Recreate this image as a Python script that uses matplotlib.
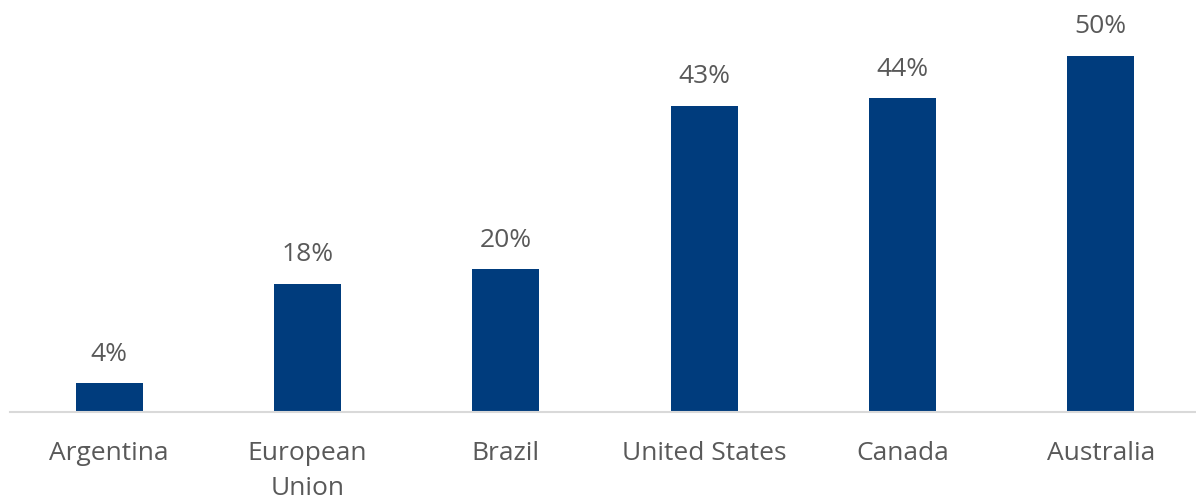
import matplotlib
matplotlib.use("Agg")
import matplotlib.pyplot as plt

countries = ["Argentina", "European\nUnion", "Brazil", "United States", "Canada", "Australia"]
shares = [4, 18, 20, 43, 44, 50]
labels = ["4%", "18%", "20%", "43%", "44%", "50%"]

plt.rcParams["font.family"] = ["Open Sans", "DejaVu Sans"]

fig = plt.figure(figsize=(11.96, 5.01), dpi=100)
ax = fig.add_axes([10 / 1196, 89 / 501, 1186 / 1196, 356.3 / 501])

x = range(len(countries))
bars = ax.bar(x, shares, width=0.337, color="#003c7d")

for b, lab in zip(bars, labels):
    ax.annotate(lab, (b.get_x() + b.get_width() / 2, b.get_height()),
                xytext=(0, 12), textcoords="offset points",
                ha="center", va="bottom", fontsize=19, color="#595959",
                annotation_clip=False)

ax.set_xlim(-0.5, 5.48)
ax.set_ylim(0, 50)
ax.set_xticks(list(x))
ax.set_xticklabels(countries, fontsize=19, color="#595959", linespacing=1.5)
ax.tick_params(axis="x", length=0, pad=21)
ax.set_yticks([])
for side in ["top", "right", "left"]:
    ax.spines[side].set_visible(False)
ax.spines["bottom"].set_color("#d9d9d9")
ax.spines["bottom"].set_linewidth(1.5)

fig.savefig("out.png", dpi=100)
